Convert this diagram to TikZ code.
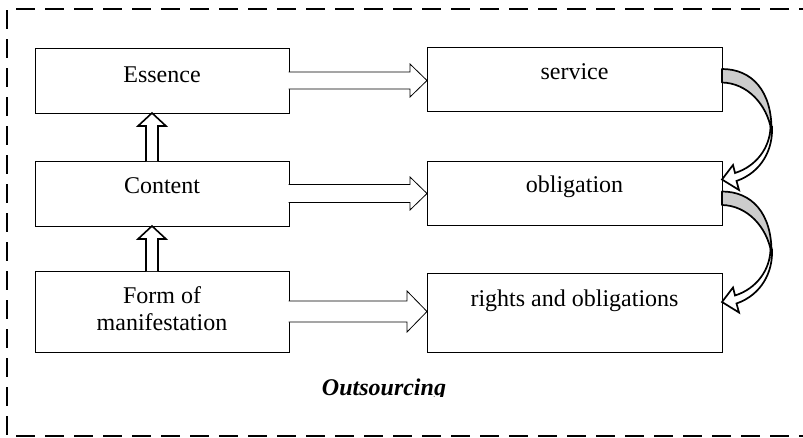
\documentclass[tikz,border=0pt]{standalone}
\usepackage{fontspec}
\setmainfont{Liberation Serif}
\usetikzlibrary{calc}

\definecolor{backgray}{RGB}{204,204,204}

% horizontal block arrow: source, target, shaft half-height, head half-height, head length
\newcommand\hblockarrow[5]{%
  \draw[flowarrow]
    ($(#1.east)+(-0.5,-#3)$) -- ($(#2.west |- #1.east)+(-#5,-#3)$)
    -- ($(#2.west |- #1.east)+(-#5,-#4)$) -- (#2.west |- #1.east)
    -- ($(#2.west |- #1.east)+(-#5,#4)$) -- ($(#2.west |- #1.east)+(-#5,#3)$)
    -- ($(#1.east)+(-0.5,#3)$);}

% vertical hollow arrow from the top of one box up to the bottom of another
\newcommand\vblockarrow[2]{%
  \draw[uparrow]
    ($(#1.north)+(-16,0)$) -- ($(#2.south)+(-16,13)$) -- ($(#2.south)+(-24,13)$)
    -- ($(#2.south)+(-10,0)$) -- ($(#2.south)+(4,13)$) -- ($(#2.south)+(-4,13)$)
    -- ($(#1.north)+(-4,0)$);}

% curved ribbon arrow, drawn in a shifted scope
\newcommand\ribbonarrow{%
  \draw[ribbon, fill=backgray]
    (0,0) .. controls (30,0) and (50,22) .. (49.5,62)
    .. controls (45,35) and (25,14) .. (0,13.5) -- cycle;
  \draw[ribbon, fill=white, line join=miter]
    (48.5,58) .. controls (48,78) and (35,97) .. (13,104)
    -- (11,96) -- (0,110.5) -- (17,121) -- (14.5,112)
    .. controls (40,103) and (51,80) .. (50,58) -- cycle;}

\begin{document}
\begin{tikzpicture}[x=1pt,y=-1pt,
  box/.style={draw, line width=0.8pt, inner sep=0pt, outer sep=0pt, fill=white},
  lbl/.style={font=\fontsize{24}{27.5}\selectfont, inner sep=0pt, anchor=base, align=center},
  flowarrow/.style={draw, line width=0.8pt, fill=white, line join=miter},
  uparrow/.style={draw, line width=1.6pt, fill=white, line join=miter},
  ribbon/.style={draw, line width=1.7pt, line join=round},
  frame/.style={draw, line width=1.8pt, dash pattern=on 19pt off 10pt}]

\clip (0,0) rectangle (803,437);
\fill[white] (0,0) rectangle (803,437);

% outer dashed border (its right side lies beyond the page)
\draw[frame] (7,10) -- (7,436) -- (830,436);
\draw[frame] (16,9) -- (830,9);

% left column
\node[box, minimum width=254pt, minimum height=65pt] (essence) at (162,80.5) {};
\node[box, minimum width=254pt, minimum height=65pt] (content) at (162,193.5) {};
\node[box, minimum width=254pt, minimum height=81pt] (form) at (162,311.5) {};

% right column
\node[box, minimum width=295pt, minimum height=64pt] (service) at (574.5,79) {};
\node[box, minimum width=295pt, minimum height=64pt] (obligation) at (574.5,193) {};
\node[box, minimum width=295pt, minimum height=79pt] (rights) at (574.5,312.5) {};

% labels (the two-line label is placed by its last baseline)
\node[lbl] (essence-t) at ($(essence.north)+(0,34)$) {Essence};
\node[lbl] (content-t) at ($(content.north)+(0,32)$) {Content};
\node[lbl] (form-t) at ($(form.north)+(0,59.7)$) {Form of\\manifestation};
\node[lbl] (service-t) at ($(service.north)+(0,32)$) {service};
\node[lbl] (obligation-t) at ($(obligation.north)+(0,31.7)$) {obligation};
\node[lbl] (rights-t) at ($(rights.north)+(0,33)$) {rights and obligations};

% arrows between the columns
\hblockarrow{essence}{service}{8.5}{16.5}{17}
\hblockarrow{content}{obligation}{9}{16.5}{17}
\hblockarrow{form}{rights}{10.5}{20.5}{20}

% arrows up the left column
\vblockarrow{content}{essence}
\vblockarrow{form}{content}

% curved arrows down the right column
\begin{scope}[shift={($(service.east)+(0,-10)$)}]
  \ribbonarrow
\end{scope}
\begin{scope}[shift={($(obligation.east)+(0,-1.5)$)}]
  \ribbonarrow
\end{scope}

% caption, cut off just below its baseline
\begin{scope}
  \clip (300,370) rectangle (470,396.5);
  \node[lbl, font=\fontsize{24}{27.5}\selectfont\bfseries\itshape] (outsourcing) at (384,395) {Outsourcing};
\end{scope}
\end{tikzpicture}
\end{document}
